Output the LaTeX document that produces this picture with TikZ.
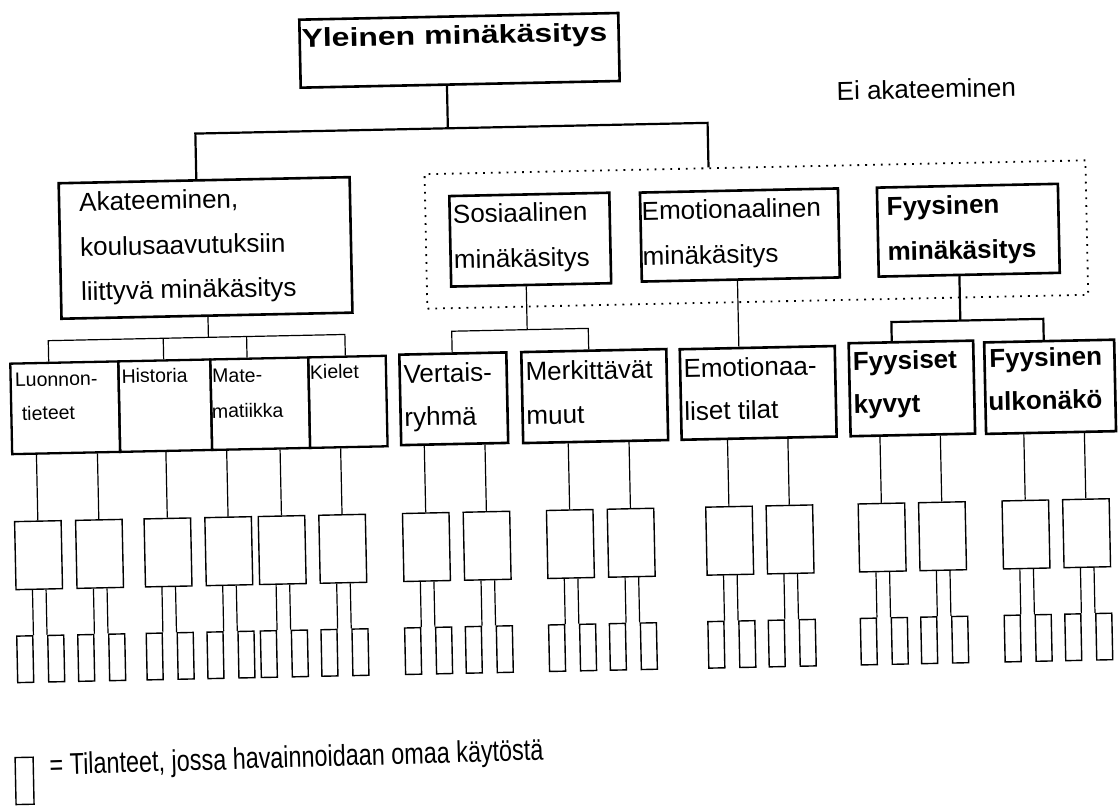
\documentclass[tikz,border=0pt]{standalone}
\usepackage{fontspec}
\setmainfont{Liberation Sans}
\usetikzlibrary{calc}

\begin{document}
\begin{tikzpicture}[x=1pt,y=-1pt,
  box/.style={draw, line width=2.6pt, inner sep=0pt, anchor=north west},
  subbox/.style={draw, line width=2.3pt, inner sep=0pt, anchor=north west},
  mbox/.style={draw, line width=1.4pt, inner sep=0pt, anchor=north west,
               minimum width=46.5pt, minimum height=68pt},
  sbox/.style={draw, line width=1.4pt, inner sep=0pt, anchor=north west,
               minimum width=16pt, minimum height=46.5pt},
  grp/.style={draw, line width=1.8pt, dash pattern=on 1.8pt off 6pt,
              inner sep=0pt, anchor=north west},
  tree/.style={line width=2.2pt},
  twig/.style={line width=1.2pt},
  lab/.style={anchor=base west, inner sep=0pt, font=\fontsize{26}{30}\selectfont},
  blab/.style={lab, font=\fontsize{26}{30}\selectfont\bfseries},
  slab/.style={lab, font=\fontsize{19.5}{23}\selectfont},
]
\fill[white] (0,0) rectangle (1119,811);
\useasboundingbox (0,0) rectangle (1119,811);

\begin{scope}[rotate around={1.2:(560,400)}, transform shape]

% ---------- top level ----------
\node[box, minimum width=319pt, minimum height=68pt] (top) at (306,13) {};
\node[blab] (toptxt) at (309,42) {\scalebox{1.23}[1]{Yleinen minäkäsitys}};

\node[lab] (eitxt) at (843,106) {Ei akateeminen};

% ---------- first level ----------
\node[box, minimum width=291pt, minimum height=135.5pt] (ak) at (62,171.5) {};
\node[lab] (akt1) at (83.3,201) {Akateeminen,};
\node[lab] (akt2) at (83.3,246) {koulusaavutuksiin};
\node[lab] (akt3) at (83.3,290.5) {liittyvä minäkäsitys};

\node[grp, minimum width=661pt, minimum height=134.5pt] (ei) at (428.4,170.5) {};

\node[box, minimum width=160pt, minimum height=90.5pt] (sos) at (452.3,192.5) {};
\node[lab] (sost1) at (456.7,221) {Sosiaalinen};
\node[lab] (sost2) at (456.7,266.5) {minäkäsitys};

\node[box, minimum width=198pt, minimum height=89pt] (emo) at (643,193) {};
\node[lab] (emot1) at (645.5,222) {Emotionaalinen};
\node[lab] (emot2) at (645.5,267) {minäkäsitys};

\node[box, minimum width=181pt, minimum height=89pt] (fyy) at (880,193) {};
\node[blab] (fyyt1) at (890.5,222.5) {Fyysinen};
\node[blab] (fyyt2) at (890.5,267.5) {minäkäsitys};

% ---------- second level ----------
\node[subbox, minimum width=108pt, minimum height=90.5pt] (lu) at (10,351) {};
\node[subbox, minimum width=92pt, minimum height=90.5pt] (hi) at (118,351) {};
\node[subbox, minimum width=98pt, minimum height=90.5pt] (ma) at (210,351) {};
\node[subbox, minimum width=77.5pt, minimum height=90.5pt] (ki) at (308,351) {};
\node[slab] (lut1) at (15.3,375.5) {Luonnon-};
\node[slab] (lut2) at (21.5,409) {tieteet};
\node[slab] (hit1) at (122,374) {Historia};
\node[slab] (mat1) at (212.7,375.5) {Mate-};
\node[slab] (mat2) at (211.5,411) {matiikka};
\node[slab] (kit1) at (310.5,374) {Kielet};

\node[box, minimum width=107pt, minimum height=90.5pt] (ve) at (399,350) {};
\node[lab] (vet1) at (404,380) {Vertais-};
\node[lab] (vet2) at (404,423) {ryhmä};

\node[box, minimum width=145pt, minimum height=91pt] (me) at (521,350) {};
\node[lab] (met1) at (526,380) {Merkittävät};
\node[lab] (met2) at (526,424) {muut};

\node[box, minimum width=155pt, minimum height=90.5pt] (et) at (679.5,350.5) {};
\node[lab] (ett1) at (684,380) {Emotionaa-};
\node[lab] (ett2) at (684,423) {liset tilat};

\node[box, minimum width=124.5pt, minimum height=93pt] (ky) at (848.5,348) {};
\node[blab] (kyt1) at (853.4,376.5) {Fyysiset};
\node[blab] (kyt2) at (853.4,419.5) {kyvyt};

\node[box, minimum width=130pt, minimum height=91.5pt] (ul) at (984,350) {};
\node[blab] (ult1) at (990,376.5) {Fyysinen};
\node[blab] (ult2) at (988,419.5) {ulkonäkö};

% ---------- main tree ----------
\coordinate (jt) at (453.6,126);
\coordinate (jl) at (201,126);
\coordinate (jr) at (713.4,126);
\draw[tree] ($(top.south west)!(jt)!(top.south east)$) -- (jt);
\draw[tree] ($(ak.north west)!(jl)!(ak.north east)$) -- (jl) -- (jr)
            -- ($(ei.north west)!(jr)!(ei.north east)$);

% academic branch
\coordinate (aj) at (209.8,330);
\coordinate (a1) at (49.6,330);
\coordinate (a2) at (164.6,330);
\coordinate (a3) at (248,330);
\coordinate (a4) at (346.3,330);
\draw[twig] ($(ak.south west)!(aj)!(ak.south east)$) -- (aj);
\draw[twig] ($(lu.north west)!(a1)!(lu.north east)$) -- (a1) -- (a4)
            -- ($(ki.north west)!(a4)!(ki.north east)$);
\draw[twig] (a2) -- ($(hi.north west)!(a2)!(hi.north east)$);
\draw[twig] (a3) -- ($(ma.north west)!(a3)!(ma.north east)$);

% social branch
\coordinate (sj) at (528.7,329);
\coordinate (s1) at (453.2,329);
\coordinate (s2) at (589.8,329);
\draw[twig] ($(sos.south west)!(sj)!(sos.south east)$) -- (sj);
\draw[twig] ($(ve.north west)!(s1)!(ve.north east)$) -- (s1) -- (s2)
            -- ($(me.north west)!(s2)!(me.north east)$);

% emotional branch
\coordinate (ej) at (740,310);
\draw[twig] ($(emo.south west)!(ej)!(emo.south east)$)
            -- ($(et.north west)!(ej)!(et.north east)$);

% physical branch
\coordinate (fj) at (962,329);
\coordinate (f1) at (893,329);
\coordinate (f2) at (1045,329);
\draw[tree] ($(fyy.south west)!(fj)!(fyy.south east)$) -- (fj);
\draw[tree] ($(ky.north west)!(f1)!(ky.north east)$) -- (f1) -- (f2)
            -- ($(ul.north west)!(f2)!(ul.north east)$);

% ---------- situations ----------
\foreach \i/\c/\p in {1/34.7/lu, 2/95.7/lu, 3/164.2/hi, 4/225/ma, 5/278.4/ma,
                      6/339/ki, 7/422.7/ve, 8/483.4/ve, 9/566.7/me, 10/627.5/me,
                      11/726/et, 12/786.4/et, 13/878.5/ky, 14/938.9/ky,
                      15/1022.4/ul, 16/1083/ul} {
  \node[mbox] (m\i) at (\c-23.25,509.5) {};
  \node[sbox] (sl\i) at (\c-23.5,624) {};
  \node[sbox] (sr\i) at (\c+7.5,624) {};
  \draw[twig] ($(\p.south west)!(m\i.north)!(\p.south east)$) -- (m\i.north);
  \draw[twig] ($(m\i.south west)!(sl\i.north east)!(m\i.south east)$) -- (sl\i.north east);
  \draw[twig] ($(m\i.south west)!(sr\i.north west)!(m\i.south east)$) -- (sr\i.north west);
}

% ---------- key ----------
\node[sbox, minimum width=18pt, minimum height=47pt] (key) at (7,745.4) {};
\node[lab, font=\fontsize{30}{34}\selectfont, rotate=0.6] (keytxt) at (42,764.4)
  {\scalebox{0.78}[1]{= Tilanteet, jossa havainnoidaan omaa käytöstä}};

\end{scope}
\end{tikzpicture}
\end{document}
